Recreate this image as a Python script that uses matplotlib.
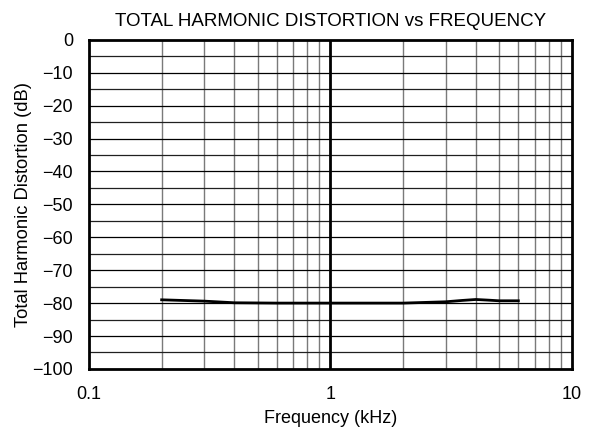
import numpy as np
import matplotlib
matplotlib.use("Agg")
import matplotlib.pyplot as plt
from matplotlib.ticker import FixedLocator, NullFormatter

plt.rcParams['font.family'] = ['Liberation Sans', 'DejaVu Sans']

# THD curve
freq_khz = [0.2, 0.3, 0.4, 0.6, 1.0, 2.0, 3.0, 3.5, 4.0, 4.5, 5.0, 6.0]
thd_db = [-79.0, -79.4, -79.9, -80.0, -80.0, -80.0, -79.6, -79.2, -78.9, -79.1, -79.3, -79.3]

x_ticks = [0.1, 1, 10]
x_labels = ["0.1", "1", "10"]
y_ticks = list(range(-100, 1, 10))
y_labels = ["\u2212" + str(-v) if v < 0 else str(v) for v in y_ticks]

fig = plt.figure(figsize=(5.97, 4.33), dpi=100)
ax = fig.add_axes([0.149, 0.148, 0.809, 0.760])

# grid: minor decades in grey, 5 dB rows in black
minor_x = [m * d for d in (0.1, 1) for m in range(2, 10)]
for xv in minor_x:
    ax.axvline(xv, color="#7a7a7a", lw=1.0, zorder=1)
ax.axvline(1, color="black", lw=2.0, zorder=2)
for yv in np.arange(-95, 0, 5):
    ax.axhline(yv, color="#202020" if yv % 10 else "black", lw=0.9, zorder=1)

ax.plot(freq_khz, thd_db, color="black", lw=2.0, zorder=3)

ax.set_xscale("log")
ax.set_xlim(0.1, 10)
ax.set_ylim(-100, 0)
ax.xaxis.set_major_locator(FixedLocator(x_ticks))
ax.xaxis.set_minor_locator(FixedLocator([]))
ax.xaxis.set_minor_formatter(NullFormatter())
ax.set_xticks(x_ticks)
ax.set_xticklabels(x_labels)
ax.set_yticks(y_ticks)
ax.set_yticklabels(y_labels)
ax.tick_params(length=0, labelsize=13)
ax.tick_params(axis="x", pad=12)
ax.tick_params(axis="y", pad=11.5)

for s in ax.spines.values():
    s.set_linewidth(2.0)
    s.set_zorder(4)

ax.set_title("TOTAL HARMONIC DISTORTION vs FREQUENCY", fontsize=13.5, pad=10)
ax.set_xlabel("Frequency (kHz)", fontsize=13, labelpad=5)
ax.set_ylabel("Total Harmonic Distortion (dB)", fontsize=13.2)
ax.yaxis.set_label_coords(-0.118, 0.5)

fig.savefig("out.png", dpi=100)
